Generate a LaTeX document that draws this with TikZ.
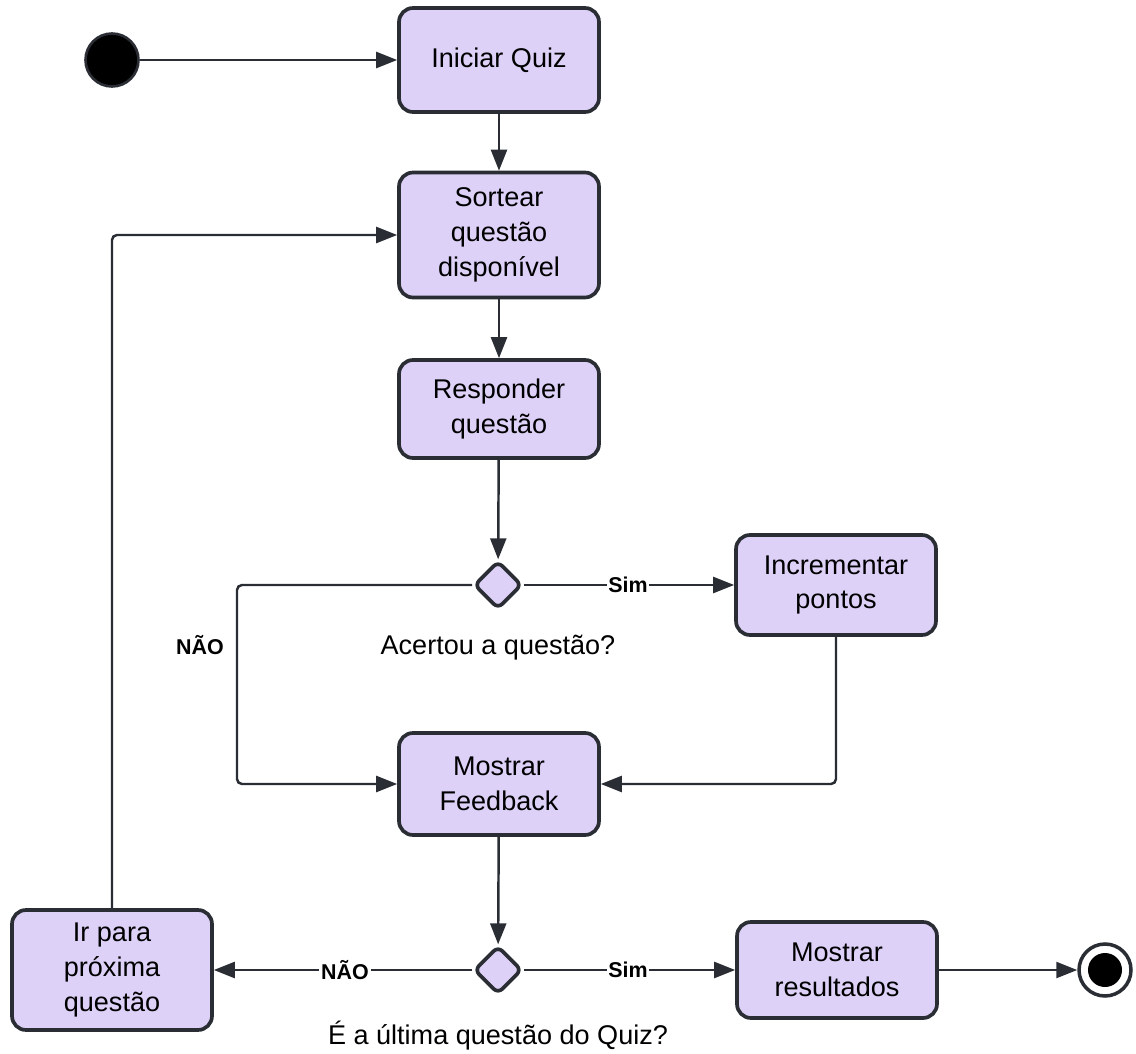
\documentclass[tikz,border=0pt]{standalone}
\usepackage{fontspec}
\setmainfont{Liberation Sans}
\usetikzlibrary{shapes.geometric,arrows.meta}

\definecolor{boxfill}{RGB}{222,209,248}
\definecolor{linec}{RGB}{42,46,52}

\tikzset{
  activity/.style={rectangle, rounded corners=0.28cm, draw=linec, line width=2.1pt,
    fill=boxfill, minimum width=4cm, align=center, inner sep=2pt,
    font=\fontsize{15.4}{19.8}\selectfont},
  decision/.style={diamond, draw=linec, line width=2.1pt, fill=boxfill,
    minimum width=0.96cm, minimum height=0.96cm, inner sep=0pt, rounded corners=0.12cm},
  flow/.style={draw=linec, line width=1.4pt, rounded corners=0.1cm,
    -{Triangle[length=0.42cm,width=0.32cm]}},
  lbl/.style={font=\fontsize{12.2}{14}\selectfont\bfseries, inner sep=1pt},
  caption/.style={font=\fontsize{15.4}{18}\selectfont, inner sep=0pt}
}

\begin{document}
\begin{tikzpicture}[x=0.02cm, y=-0.02cm]

  \useasboundingbox (0,0) rectangle (1136,1054);

  % --- Start and end states ---
  \node[circle, fill=black, draw=linec, line width=1.5pt, minimum size=1.06cm, inner sep=0pt] (start) at (112,60) {};
  \node[circle, fill=white, draw=linec, line width=2pt, minimum size=1.04cm, inner sep=0pt] (finish) at (1105,970) {};
  \fill[black] (finish) circle (0.34cm);

  % --- Activities ---
  \node[activity, minimum height=2.08cm] (iniciar) at (499,60) {Iniciar Quiz};
  \node[activity, minimum height=2.5cm] (sortear) at (499,235) {Sortear\\questão\\disponível};
  \node[activity, minimum height=1.96cm] (responder) at (499,409) {Responder\\questão};
  \node[activity, minimum height=2.0cm] (incrementar) at (836,585) {Incrementar\\pontos};
  \node[activity, minimum height=2.04cm] (feedback) at (499,784) {Mostrar\\Feedback};
  \node[activity, minimum height=2.4cm] (irpara) at (112,970) {Ir para\\próxima\\questão};
  \node[activity, minimum height=1.92cm] (resultados) at (837,970) {Mostrar\\resultados};

  % --- Decisions ---
  \node[decision] (acertou) at (498,585) {};
  \node[decision] (ultima) at (498,970) {};
  \node[caption] (acertoutxt) at (498,648) {Acertou a questão?};
  \node[caption] (ultimatxt) at (498,1036) {É a última questão do Quiz?};

  \coordinate (naobend) at (237,585);

  % --- Flows ---
  \draw[flow] (start) -- (iniciar);
  \draw[flow] (iniciar) -- (sortear);
  \draw[flow] (sortear) -- (responder);
  \draw[flow] (responder) -- (acertou);
  \draw[flow] (acertou) -- (incrementar);
  \draw[flow] (acertou.west) -- (naobend) |- (feedback.west);
  \draw[flow] (incrementar.south) |- (feedback.east);
  \draw[flow] (feedback) -- (ultima);
  \draw[flow] (ultima) -- (irpara);
  \draw[flow] (ultima) -- (resultados);
  \draw[flow] (resultados) -- (finish);
  \draw[flow] (irpara.north) |- (sortear.west);

  % --- Guard labels ---
  \node[lbl, fill=white] (sim1) at (628,585) {Sim};
  \node[lbl] (nao1) at (200,645) {NÃO};
  \node[lbl, fill=white] (nao2) at (345,970) {NÃO};
  \node[lbl, fill=white] (sim2) at (628,970) {Sim};

\end{tikzpicture}
\end{document}
